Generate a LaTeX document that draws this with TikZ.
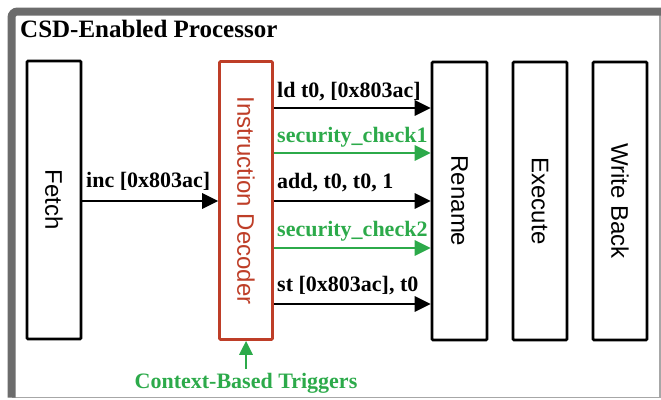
\documentclass[tikz,border=0pt]{standalone}
\usepackage{fontspec}
\setmainfont{Liberation Serif}
\newfontfamily\arialf{Liberation Sans}
\usetikzlibrary{arrows.meta}
\definecolor{decred}{RGB}{190,62,40}
\definecolor{trgreen}{RGB}{44,170,74}
\definecolor{framegray}{RGB}{108,108,108}
\tikzset{
  stagebox/.style={draw=black, line width=2.6pt, rounded corners=1pt, minimum width=54pt, minimum height=278pt, inner sep=0pt, font=\arialf\fontsize{24}{28}\selectfont},
  arr/.style={line width=2.8pt, -{Triangle[length=16pt,width=15pt]}},
  garr/.style={arr, draw=trgreen, color=trgreen},
  lbl/.style={anchor=base west, inner sep=0pt, font=\bfseries\fontsize{22}{25}\selectfont},
  glbl/.style={lbl, text=trgreen}
}
\begin{document}
\begin{tikzpicture}[x=1pt,y=-1pt]
\useasboundingbox (0,0) rectangle (661,399);
% frame
\draw[framegray!60, line width=1.2pt] (660,12) -- (660,397.5) -- (12,397.5);
\draw[framegray, line width=8pt, rounded corners=6pt] (11.5,397.5) -- (11.5,11.5) -- (661,11.5);
\node[anchor=base west, inner sep=0pt, font=\bfseries\fontsize{25}{29}\selectfont] (title) at (20,37) {CSD-Enabled Processor};
% stages
\node[stagebox] (fetch) at (54,200) {\rotatebox{-90}{Fetch}};
\node[stagebox, draw=decred, text=decred, minimum width=53pt] (dec) at (246,200.5) {\rotatebox{-90}{Instruction Decoder}};
\node[stagebox, minimum width=55pt] (ren) at (459.5,201) {\rotatebox{-90}{Rename}};
\node[stagebox] (exe) at (540,201) {\rotatebox{-90}{Execute}};
\node[stagebox] (wb) at (620,201) {\rotatebox{-90}{Write Back}};
% fetch -> decoder
\draw[arr] (fetch.east |- 0,201) -- (dec.west |- 0,201);
\node[lbl] (l0) at (86,187) {inc [0x803ac]};
% decoder -> rename
\draw[arr] (dec.east |- 0,108) -- (ren.west |- 0,108);
\node[lbl] (l1) at (277,97) {ld t0, [0x803ac]};
\draw[garr] (dec.east |- 0,153) -- (ren.west |- 0,153);
\node[glbl] (l2) at (277,142) {security\_check1};
\draw[arr] (dec.east |- 0,201) -- (ren.west |- 0,201);
\node[lbl] (l3) at (277,188) {add, t0, t0, 1};
\draw[garr] (dec.east |- 0,248) -- (ren.west |- 0,248);
\node[glbl] (l4) at (277,236) {security\_check2};
\draw[arr] (dec.east |- 0,304) -- (ren.west |- 0,304);
\node[lbl] (l5) at (277,291) {st [0x803ac], t0};
% triggers
\node[glbl, anchor=base] (trig) at (246,388) {Context-Based Triggers};
\coordinate (ts) at (246,369);
\draw[line width=2.8pt, draw=trgreen, color=trgreen, -{Triangle[length=14pt,width=13pt]}] (ts) -- (dec.south);
\end{tikzpicture}
\end{document}
